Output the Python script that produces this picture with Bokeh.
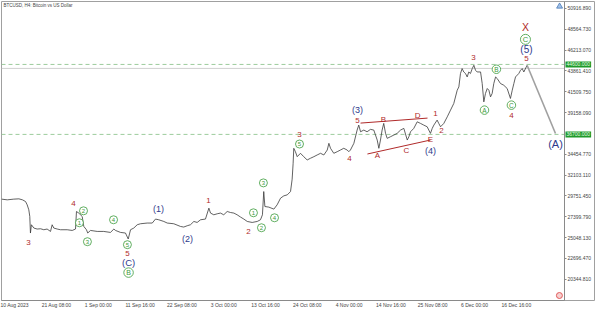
from bokeh.plotting import figure
from bokeh.models import FixedTicker, Label, Range1d, ColumnDataSource
from bokeh.core.properties import value
from bokeh.embed import file_html
from bokeh.resources import INLINE

# BTCUSD H4 close, time in hours after 2023-08-10 00:00
hours = [15, 50, 90, 121, 143, 162, 172, 182, 188, 192, 198, 213, 233, 254, 274, 294, 315, 325, 335, 356,
         376, 417, 448, 468, 474, 488, 509, 519, 535, 543, 560, 601, 641, 682, 703, 713, 744, 774, 791, 805,
         825, 846, 866, 907, 938, 958, 978, 1009, 1030, 1070, 1111, 1131, 1152, 1172, 1193, 1213, 1234, 1264,
         1285, 1295, 1315, 1336, 1356, 1376, 1397, 1417, 1438, 1458, 1479, 1499, 1520, 1550, 1581, 1601, 1613,
         1621, 1628, 1652, 1683, 1703, 1724, 1744, 1765, 1785, 1795, 1801, 1805, 1815, 1826, 1846, 1866, 1887,
         1907, 1928, 1948, 1969, 1989, 2010, 2020, 2030, 2050, 2071, 2091, 2111, 2132, 2142, 2152, 2173, 2193,
         2203, 2214, 2234, 2254, 2275, 2295, 2316, 2326, 2336, 2346, 2356, 2367, 2377, 2397, 2418, 2438, 2459,
         2479, 2500, 2510, 2520, 2540, 2561, 2581, 2601, 2622, 2642, 2653, 2663, 2683, 2693, 2704, 2724, 2745,
         2765, 2785, 2806, 2816, 2826, 2836, 2846, 2857, 2867, 2877, 2887, 2898, 2908, 2918, 2928, 2949, 2959,
         2969, 2979, 2990, 3000, 3010, 3020, 3030, 3041, 3051, 3071, 3091, 3112, 3132, 3143, 3153, 3163, 3183,
         3194, 3204, 3214, 3234]
close = [29392, 29313, 29392, 29426, 29313, 29122, 28750, 28188, 27434, 25566, 26500, 26128, 26016, 26049,
         25937, 26016, 25746, 26500, 26128, 26016, 25937, 25937, 25858, 26016, 27997, 27817, 27434, 26310,
         25937, 25566, 25858, 25746, 25746, 25634, 26016, 25858, 25634, 25566, 24891, 25937, 26128, 26500,
         26612, 26692, 26692, 27142, 27063, 26872, 26692, 26612, 26310, 26240, 26387, 26500, 26872, 26760,
         27063, 27142, 28377, 27817, 27625, 27738, 27817, 27625, 27997, 27885, 27817, 27625, 27367, 27142,
         26872, 26760, 26872, 27063, 27625, 30248, 28559, 28491, 28266, 28750, 29504, 29763, 29876, 30248,
         31642, 33442, 35130, 34748, 34185, 34568, 34185, 33814, 34005, 34185, 34376, 34568, 34376, 34939,
         35693, 35130, 34568, 34748, 34939, 35130, 34939, 34748, 34939, 35693, 37190, 37752, 36998, 37190,
         36998, 37268, 37190, 36064, 35130, 36064, 37190, 37943, 36818, 36255, 36436, 36627, 36818, 37190,
         37381, 36064, 36436, 36998, 37381, 38123, 37943, 37752, 37561, 36818, 37381, 37752, 38314, 37943,
         37561, 37943, 38686, 39440, 40193, 41690, 42062, 43569, 44132, 43749, 43569, 43187, 43749, 43569,
         44132, 44503, 43941, 43749, 43749, 42444, 40374, 41319, 41881, 41690, 40936, 41319, 42444, 43187,
         43007, 42444, 42253, 41881, 40756, 41690, 42444, 43187, 43569, 43941, 44132, 43749, 44503]

tick_hours = [15, 272, 528, 784, 1040, 1296, 1552, 1808, 2064, 2320, 2576, 2832, 3088]
tick_labels = ["10 Aug 2023", "21 Aug 08:00", "1 Sep 00:00", "11 Sep 16:00", "22 Sep 08:00",
               "3 Oct 00:00", "13 Oct 16:00", "24 Oct 08:00", "4 Nov 00:00", "14 Nov 16:00",
               "25 Nov 08:00", "6 Dec 00:00", "16 Dec 16:00"]

price_ticks = [50916.89, 48564.73, 46213.07, 43861.41, 41509.75, 39158.09, 34454.77,
               32103.11, 29751.45, 27399.79, 25048.13, 22696.47, 20344.81]
price_tick_labels = ["50916.890", "48564.730", "46213.070", "43861.410", "41509.750", "39158.090",
                     "34454.770", "32103.110", "29751.450", "27399.790", "25048.130", "22696.470",
                     "20344.810"]

level_prices = [44600.0, 36700.0]
level_labels = ["44600.000", "36700.000"]
bid_price = 44150

# projected move 5 -> (A)
proj_hours = [3234, 3408]
proj_price = [44503, 36800]

# triangle A-B-C-D-E boundaries
tri_upper_hours = [2214, 2624]
tri_upper_price = [37977, 38540]
tri_lower_hours = [2256, 2642]
tri_lower_price = [34489, 36064]

# red (minor) wave labels
red_text = ["3", "4", "5", "1", "2", "3", "4", "5", "A", "B", "C", "D", "E", "1", "2", "3", "4", "5"]
red_hours = [180, 456, 786, 1283, 1528, 1840, 2146, 2195, 2318, 2354, 2495, 2563, 2642, 2673, 2710,
             2906, 3138, 3230]
red_price = [24475, 28863, 23237, 29200, 25712, 36739, 33925, 38314, 34264, 38427, 34939, 38877,
             36177, 39102, 37190, 45403, 38877, 45291]

# navy (intermediate) wave labels
navy_text = ["(C)", "(1)", "(2)", "(3)", "(4)", "(5)", "(A)"]
navy_hours = [793, 976, 1154, 2195, 2642, 3230, 3408]
navy_price = [22224, 28300, 24925, 39440, 34827, 46304, 35614]
navy_size = ["9.5px", "9px", "9px", "9px", "9px", "10px", "11px"]

# green circled wave labels
circ_text = ["1", "2", "3", "4", "5", "B", "1", "2", "3", "4", "5", "A", "B", "C", "C"]
circ_hours = [492, 517, 541, 701, 786, 793, 1558, 1607, 1619, 1687, 1840, 2973, 3046, 3138, 3224]
circ_price = [26725, 28075, 24587, 27063, 24250, 21099, 27850, 26162, 31225, 27288, 35614, 39440,
              44053, 40002, 47429]
circ_size = [8, 8, 8, 8, 8, 9.5, 8, 8, 8, 8, 8, 8.5, 8.5, 8.5, 10]
circ_font = ["6px", "6px", "6px", "6px", "6px", "7px", "6px", "6px", "6px", "6px", "6px",
             "6.5px", "6.5px", "6.5px", "7.5px"]

top_text = ["X"]
top_hours = [3224]
top_price = [48779]

# right price-scale position (hours) and right window edge
scale_hours = 3463
x_end = 3653

RED = "#b02a2a"
NAVY = "#2e3a8c"
GREEN = "#3a9a3a"
FONT = value("Liberation Sans")

p = figure(width=595, height=310, output_backend="svg", toolbar_location=None,
           x_range=Range1d(14.75, x_end), y_range=Range1d(17949, 51704),
           y_axis_location="right", min_border_left=1, min_border_top=1,
           min_border_right=0, min_border_bottom=0, background_fill_color="white",
           border_fill_color="white", outline_line_color="#a0a0a0")
p.xgrid.visible = False
p.ygrid.visible = False

# x axis
xa = p.xaxis[0]
label_shift = 80
xa.ticker = FixedTicker(ticks=[h + label_shift for h in tick_hours])
xa.major_label_overrides = {h + label_shift: s for h, s in zip(tick_hours, tick_labels)}
xa.major_tick_line_color = None
xa.major_tick_out = 0
xa.major_tick_in = 0
xa.minor_tick_line_color = None
xa.axis_line_color = "#8a8a8a"
xa.bounds = (14.75, scale_hours)
xa.major_label_text_font = "Liberation Sans"
xa.major_label_text_font_size = "5px"
xa.major_label_text_color = "#444444"
xa.major_label_standoff = 1

# y price scale
ya = p.yaxis[0]
ya.fixed_location = scale_hours
ya.ticker = FixedTicker(ticks=price_ticks)
ya.major_label_overrides = {v: s for v, s in zip(price_ticks, price_tick_labels)}
ya.minor_tick_line_color = None
ya.major_tick_out = 2
ya.major_tick_in = 0
ya.major_tick_line_color = "#8a8a8a"
ya.axis_line_color = "#8a8a8a"
ya.major_label_text_font = "Liberation Sans"
ya.major_label_text_font_size = "5px"
ya.major_label_text_color = "#444444"
ya.major_label_standoff = 1

# level lines
for lv in level_prices:
    p.line([14.75, scale_hours], [lv, lv], line_color="#9ccc9c", line_dash="4 3", line_width=1)
p.line([14.75, scale_hours], [bid_price, bid_price], line_color="#d0d0d0", line_width=1)

# price
src = ColumnDataSource(dict(x=hours, y=close))
p.line("x", "y", source=src, line_color="#3a3a3a", line_width=0.8)

# projection and triangle
p.line(proj_hours, proj_price, line_color="#a0a0a0", line_width=1.6)
p.line(tri_upper_hours, tri_upper_price, line_color=RED, line_width=1)
p.line(tri_lower_hours, tri_lower_price, line_color=RED, line_width=1)

# labels
p.text(red_hours, red_price, text=red_text, text_color=RED, text_font=FONT,
       text_font_size="8px", text_align="center", text_baseline="middle")
p.text(top_hours, top_price, text=top_text, text_color=RED, text_font=FONT,
       text_font_size="10.5px", text_align="center", text_baseline="middle")
nsrc = ColumnDataSource(dict(x=navy_hours, y=navy_price, t=navy_text, s=navy_size))
p.text("x", "y", text="t", source=nsrc, text_color=NAVY, text_font=FONT,
       text_font_size="s", text_align="center", text_baseline="middle")
csrc = ColumnDataSource(dict(x=circ_hours, y=circ_price, t=circ_text, s=circ_size, f=circ_font))
p.scatter("x", "y", size="s", source=csrc, marker="circle", fill_color="white",
          line_color=GREEN, line_width=0.8)
p.text("x", "y", text="t", source=csrc, text_color=GREEN, text_font=FONT,
       text_font_size="f", text_align="center", text_baseline="middle")

# small terminal icons: trade marker at top right, red marker at bottom right
p.scatter([3433], [51150], size=6, marker="triangle", fill_color="#9fc0e8",
          line_color="#4a7ab8", line_width=0.8)
p.scatter([3432], [18511], size=6, marker="circle", fill_color="#f6d0d0",
          line_color="#e05a5a", line_width=1)

# title
p.add_layout(Label(x=2, y=51254, x_units="screen", y_units="data",
                   text="BTCUSD, H4:  Bitcoin vs US Dollar", text_font="Liberation Sans",
                   text_font_size="4.5px", text_color="#444444", text_baseline="middle"))

# price level tags on the scale
for lv, s in zip(level_prices, level_labels):
    p.add_layout(Label(x=scale_hours, y=lv, x_units="data", y_units="data", text=s,
                       text_font="Liberation Sans", text_font_size="5px",
                       text_color="#e8ffe8", text_baseline="middle", text_align="left",
                       background_fill_color="#1f9a2a", padding=1, x_offset=1))

open("out.html", "w").write(file_html(p, INLINE))
